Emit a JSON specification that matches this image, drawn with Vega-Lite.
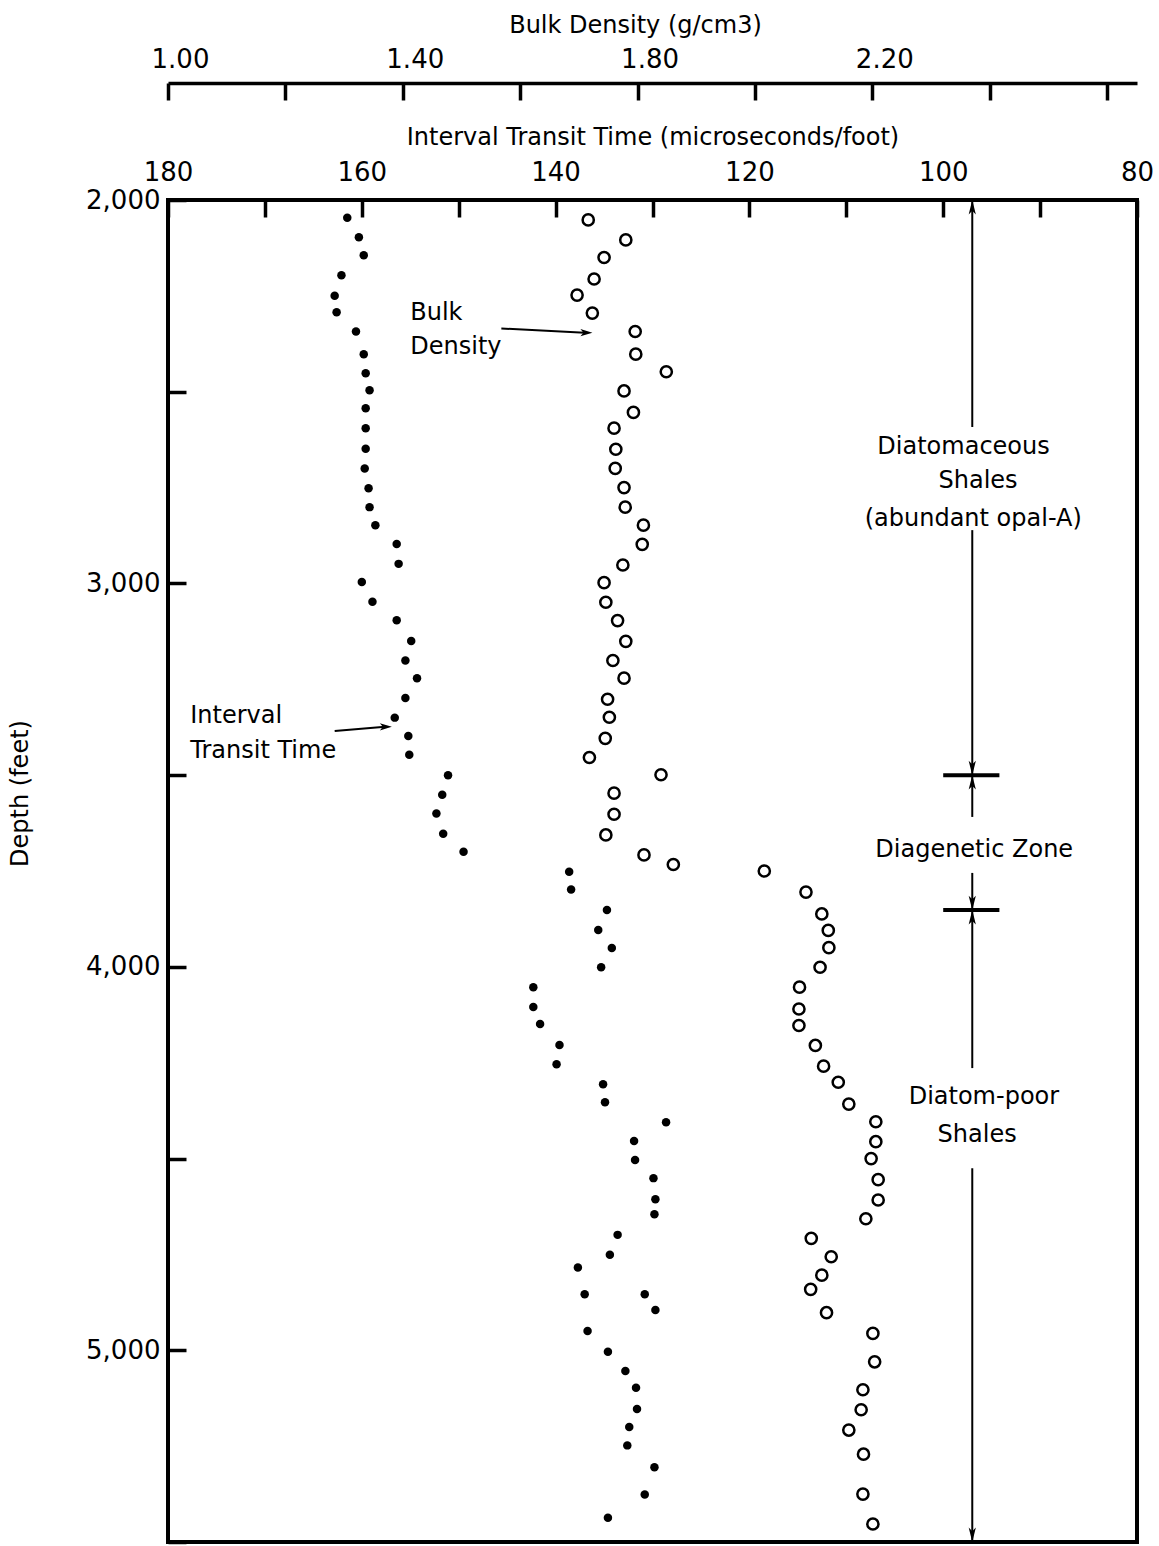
{
  "$schema": "https://vega.github.io/schema/vega-lite/v6.json",
  "width": 969,
  "height": 1342,
  "autosize": {"type": "none"},
  "padding": {"left": 168, "top": 200, "right": 22, "bottom": 4},
  "background": "white",
  "config": {
    "view": {"stroke": "black", "strokeWidth": 4},
    "font": "DejaVu Sans",
    "axis": {
      "labelFont": "DejaVu Sans", "titleFont": "DejaVu Sans",
      "labelColor": "black", "titleColor": "black", "tickColor": "black", "domainColor": "black",
      "titleFontWeight": "normal", "grid": false, "labelOverlap": false, "labelFlush": false
    },
    "text": {"font": "DejaVu Sans", "fontSize": 24, "color": "black"}
  },
  "datasets": {
    "itt": [
      {"depth":2046,"itt":161.5},{"depth":2097,"itt":160.3},{"depth":2144,"itt":159.8},{"depth":2196,"itt":162.1},{"depth":2250,"itt":162.8},{"depth":2293,"itt":162.6},{"depth":2343,"itt":160.6},{"depth":2402,"itt":159.8},{"depth":2452,"itt":159.6},{"depth":2496,"itt":159.2},{"depth":2543,"itt":159.6},{"depth":2595,"itt":159.6},{"depth":2649,"itt":159.6},{"depth":2700,"itt":159.7},{"depth":2752,"itt":159.3},{"depth":2801,"itt":159.2},{"depth":2848,"itt":158.6},{"depth":2897,"itt":156.4},{"depth":2949,"itt":156.2},{"depth":2996,"itt":160.0},{"depth":3048,"itt":158.9},{"depth":3096,"itt":156.4},{"depth":3150,"itt":154.9},{"depth":3201,"itt":155.5},{"depth":3247,"itt":154.3},{"depth":3299,"itt":155.5},{"depth":3350,"itt":156.6},{"depth":3398,"itt":155.2},{"depth":3447,"itt":155.1},{"depth":3500,"itt":151.1},{"depth":3551,"itt":151.7},{"depth":3600,"itt":152.3},{"depth":3653,"itt":151.6},{"depth":3700,"itt":149.5},{"depth":3752,"itt":138.6},{"depth":3798,"itt":138.4},{"depth":3852,"itt":134.7},{"depth":3904,"itt":135.6},{"depth":3951,"itt":134.2},{"depth":4001,"itt":135.3},{"depth":4053,"itt":142.3},{"depth":4105,"itt":142.3},{"depth":4149,"itt":141.6},{"depth":4204,"itt":139.6},{"depth":4254,"itt":139.9},{"depth":4306,"itt":135.1},{"depth":4353,"itt":134.9},{"depth":4405,"itt":128.6},{"depth":4454,"itt":131.9},{"depth":4504,"itt":131.8},{"depth":4551,"itt":129.9},{"depth":4606,"itt":129.7},{"depth":4645,"itt":129.8},{"depth":4699,"itt":133.6},{"depth":4751,"itt":134.4},{"depth":4784,"itt":137.7},{"depth":4854,"itt":137.0},{"depth":4854,"itt":130.8},{"depth":4895,"itt":129.7},{"depth":4950,"itt":136.7},{"depth":5004,"itt":134.6},{"depth":5054,"itt":132.8},{"depth":5098,"itt":131.7},{"depth":5153,"itt":131.6},{"depth":5200,"itt":132.4},{"depth":5248,"itt":132.6},{"depth":5305,"itt":129.8},{"depth":5376,"itt":130.8},{"depth":5437,"itt":134.6}
    ],
    "bd": [
      {"depth":2052,"bd":1.716},{"depth":2104,"bd":1.780},{"depth":2150,"bd":1.743},{"depth":2206,"bd":1.726},{"depth":2248,"bd":1.697},{"depth":2295,"bd":1.723},{"depth":2343,"bd":1.796},{"depth":2402,"bd":1.797},{"depth":2448,"bd":1.849},{"depth":2498,"bd":1.777},{"depth":2554,"bd":1.793},{"depth":2595,"bd":1.760},{"depth":2650,"bd":1.763},{"depth":2700,"bd":1.762},{"depth":2750,"bd":1.777},{"depth":2801,"bd":1.779},{"depth":2848,"bd":1.810},{"depth":2898,"bd":1.808},{"depth":2952,"bd":1.775},{"depth":2998,"bd":1.743},{"depth":3049,"bd":1.746},{"depth":3097,"bd":1.766},{"depth":3151,"bd":1.780},{"depth":3201,"bd":1.758},{"depth":3247,"bd":1.777},{"depth":3302,"bd":1.749},{"depth":3349,"bd":1.752},{"depth":3404,"bd":1.745},{"depth":3454,"bd":1.718},{"depth":3499,"bd":1.840},{"depth":3547,"bd":1.760},{"depth":3602,"bd":1.760},{"depth":3656,"bd":1.746},{"depth":3708,"bd":1.811},{"depth":3733,"bd":1.861},{"depth":3750,"bd":2.016},{"depth":3805,"bd":2.087},{"depth":3862,"bd":2.114},{"depth":3905,"bd":2.125},{"depth":3950,"bd":2.126},{"depth":4001,"bd":2.111},{"depth":4053,"bd":2.076},{"depth":4110,"bd":2.075},{"depth":4153,"bd":2.075},{"depth":4205,"bd":2.103},{"depth":4259,"bd":2.117},{"depth":4301,"bd":2.142},{"depth":4358,"bd":2.160},{"depth":4404,"bd":2.206},{"depth":4456,"bd":2.206},{"depth":4500,"bd":2.198},{"depth":4555,"bd":2.210},{"depth":4608,"bd":2.210},{"depth":4657,"bd":2.189},{"depth":4708,"bd":2.096},{"depth":4756,"bd":2.130},{"depth":4804,"bd":2.114},{"depth":4841,"bd":2.095},{"depth":4902,"bd":2.122},{"depth":4956,"bd":2.201},{"depth":5030,"bd":2.204},{"depth":5103,"bd":2.184},{"depth":5155,"bd":2.181},{"depth":5208,"bd":2.160},{"depth":5271,"bd":2.185},{"depth":5375,"bd":2.184},{"depth":5453,"bd":2.201}
    ],
    "segments": [
      {"itt":97,"itt2":97,"depth":2000,"depth2":2592},
      {"itt":97,"itt2":97,"depth":2861,"depth2":3500},
      {"itt":97,"itt2":97,"depth":3500,"depth2":3609},
      {"itt":97,"itt2":97,"depth":3755,"depth2":3852},
      {"itt":97,"itt2":97,"depth":3852,"depth2":4264},
      {"itt":97,"itt2":97,"depth":4525,"depth2":5500},
      {"itt":145.6,"itt2":137.0,"depth":2335,"depth2":2346},
      {"itt":162.8,"itt2":157.6,"depth":3385,"depth2":3374}
    ],
    "crossbars": [
      {"itt":100,"itt2":94.2,"depth":3500},
      {"itt":100,"itt2":94.2,"depth":3852}
    ],
    "arrows": [
      {"itt":97,"depth":2000,"dir":"up"},
      {"itt":97,"depth":3500,"dir":"down"},
      {"itt":97,"depth":3500,"dir":"up"},
      {"itt":97,"depth":3852,"dir":"down"},
      {"itt":97,"depth":3852,"dir":"up"},
      {"itt":97,"depth":5500,"dir":"down"},
      {"itt":136.2,"depth":2346,"dir":"right"},
      {"itt":156.9,"depth":3374,"dir":"right"}
    ],
    "notesLeft": [
      {"itt":155.0,"depth":2295,"text":"Bulk"},
      {"itt":155.0,"depth":2383,"text":"Density"},
      {"itt":177.7,"depth":3346,"text":"Interval"},
      {"itt":177.7,"depth":3437,"text":"Transit Time"}
    ],
    "notesCenter": [
      {"itt":97.9,"depth":2644,"text":"Diatomaceous"},
      {"itt":96.4,"depth":2733,"text":"Shales"},
      {"itt":96.9,"depth":2832,"text":"(abundant opal-A)"},
      {"itt":96.8,"depth":3695,"text":"Diagenetic Zone"},
      {"itt":95.8,"depth":4339,"text":"Diatom-poor"},
      {"itt":96.5,"depth":4438,"text":"Shales"}
    ]
  },
  "encoding": {
    "y": {"field": "depth", "type": "quantitative",
      "scale": {"domain": [2000, 5500], "reverse": true, "nice": false, "zero": false},
      "axis": {"values": [2000,2500,3000,3500,4000,4500,5000,5500],
        "labelExpr": "datum.value % 1000 == 0 ? format(datum.value, ',') : ''",
        "tickSize": -18, "tickWidth": 3.5, "labelPadding": 26, "labelFontSize": 26,
        "domain": false, "title": "Depth (feet)", "titleFontSize": 24,
        "titleX": -148, "titleY": 593, "titleAngle": -90, "titleBaseline": "middle", "titleAlign": "center"}}
  },
  "layer": [
    {
      "data": {"name": "itt"},
      "mark": {"type": "point", "shape": "circle", "filled": true, "color": "black", "size": 72, "opacity": 1},
      "encoding": {
        "x": {"field": "itt", "type": "quantitative",
          "scale": {"domain": [80, 180], "reverse": true, "nice": false, "zero": false},
          "axis": {"orient": "top", "values": [80,90,100,110,120,130,140,150,160,170,180],
            "labelExpr": "datum.value % 20 == 0 ? format(datum.value, 'd') : ''",
            "tickSize": -17, "tickWidth": 3.5, "labelPadding": 32, "labelFontSize": 26,
            "domain": false, "title": "Interval Transit Time (microseconds/foot)", "titleFontSize": 24,
            "titleY": -63, "titleBaseline": "middle"}}
      }
    },
    {
      "data": {"name": "bd"},
      "mark": {"type": "point", "shape": "circle", "filled": false, "color": "black", "size": 125, "strokeWidth": 2.5, "opacity": 1},
      "encoding": {
        "x": {"field": "bd", "type": "quantitative",
          "scale": {"domain": [1.0, 2.651], "nice": false, "zero": false},
          "axis": {"orient": "top", "offset": 117, "values": [1,1.2,1.4,1.6,1.8,2,2.2,2.4,2.6],
            "labelExpr": "(datum.value == 1 || datum.value == 1.4 || datum.value == 1.8 || datum.value == 2.2) ? format(datum.value, '.2f') : ''",
            "tickSize": -17, "tickWidth": 3.5, "labelPadding": 28, "labelOffset": 12, "labelFontSize": 26,
            "domain": true, "domainWidth": 3.5, "title": "Bulk Density (g/cm3)", "titleFontSize": 24,
            "titleY": -58, "titleX": 467, "titleBaseline": "middle"}}
      }
    },
    {
      "data": {"name": "segments"},
      "mark": {"type": "rule", "color": "black", "strokeWidth": 2},
      "encoding": {
        "x": {"field": "itt", "type": "quantitative", "scale": {"domain": [80, 180], "reverse": true, "nice": false, "zero": false}, "axis": null},
        "x2": {"field": "itt2"},
        "y2": {"field": "depth2"}
      }
    },
    {
      "data": {"name": "crossbars"},
      "mark": {"type": "rule", "color": "black", "strokeWidth": 4},
      "encoding": {
        "x": {"field": "itt", "type": "quantitative", "scale": {"domain": [80, 180], "reverse": true, "nice": false, "zero": false}, "axis": null},
        "x2": {"field": "itt2"}
      }
    },
    {
      "data": {"name": "arrows"},
      "mark": {"type": "point", "filled": true, "color": "black", "size": 576, "opacity": 1},
      "encoding": {
        "x": {"field": "itt", "type": "quantitative", "scale": {"domain": [80, 180], "reverse": true, "nice": false, "zero": false}, "axis": null},
        "shape": {"field": "dir", "type": "nominal", "legend": null,
          "scale": {"domain": ["up", "down", "right"],
            "range": ["M0,0L-0.3,1.2L0,0.9L0.3,1.2Z", "M0,0L-0.3,-1.2L0,-0.9L0.3,-1.2Z", "M0,0L-1.0,-0.3L-0.75,0L-1.0,0.3Z"]}}
      }
    },
    {
      "data": {"name": "notesLeft"},
      "mark": {"type": "text", "align": "left", "baseline": "middle", "fontSize": 24},
      "encoding": {
        "x": {"field": "itt", "type": "quantitative", "scale": {"domain": [80, 180], "reverse": true, "nice": false, "zero": false}, "axis": null},
        "text": {"field": "text"}
      }
    },
    {
      "data": {"name": "notesCenter"},
      "mark": {"type": "text", "align": "center", "baseline": "middle", "fontSize": 24},
      "encoding": {
        "x": {"field": "itt", "type": "quantitative", "scale": {"domain": [80, 180], "reverse": true, "nice": false, "zero": false}, "axis": null},
        "text": {"field": "text"}
      }
    }
  ],
  "resolve": {"scale": {"x": "independent"}, "axis": {"x": "independent"}}
}
